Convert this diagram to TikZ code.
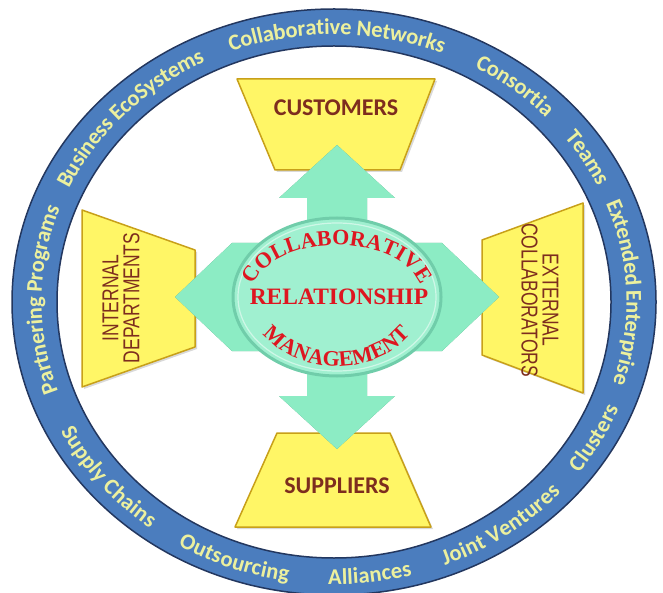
\documentclass[tikz,border=0pt]{standalone}
\usepackage{fontspec}
\usepackage{xcolor}
\usepackage{tikz}
\usetikzlibrary{decorations.text,shadows}

\newfontfamily\ringfont{Carlito}
\newfontfamily\boxfont{Carlito}
\newfontfamily\sidefont{Liberation Sans}[FakeStretch=0.76]
\newfontfamily\hubfont{Liberation Serif}

\definecolor{ringblue}{RGB}{75,125,190}
\definecolor{ringedge}{RGB}{35,55,95}
\definecolor{ringtext}{RGB}{236,240,158}
\definecolor{boxyellow}{RGB}{255,246,102}
\definecolor{boxedge}{RGB}{200,160,25}
\definecolor{boxtext}{RGB}{125,45,30}
\definecolor{mint}{RGB}{140,236,196}
\definecolor{mintdark}{RGB}{75,160,122}
\definecolor{hubfill}{RGB}{160,240,208}
\definecolor{hubrim}{RGB}{112,205,170}
\definecolor{hubred}{RGB}{222,22,32}

\begin{document}
\begin{tikzpicture}[x=1pt,y=1pt,
  ringtop/.style={decorate,decoration={text along path,text align=center,raise=-7.5pt,
    text color=ringtext,text={|\fontsize{22.5}{22.5}\ringfont\bfseries|#1}}},
  ringbot/.style={decorate,decoration={text along path,text align=center,raise=-7.5pt,
    text color=ringtext,text={|\fontsize{22.5}{22.5}\ringfont\bfseries|#1}}},
  hubarc/.style={decorate,decoration={text along path,text align=center,
    text color=hubred,text={|\fontsize{22}{22}\hubfont\bfseries|#1}}},
  box/.style={fill=boxyellow,draw=boxedge,line width=1.5pt,line join=round,
    drop shadow={shadow xshift=2pt,shadow yshift=-2pt,opacity=0.3}},
  boxlabel/.style={text=boxtext,font=\fontsize{24}{24}\boxfont\bfseries},
  sidelabel/.style={text=boxtext,font=\fontsize{23}{21}\sidefont,align=center}]
\useasboundingbox (0,0) rectangle (663,592);
\coordinate (ctr) at (334,290);
\coordinate (hub) at (337,295);

% outer ring
\fill[ringblue,even odd rule] (ctr) ellipse [x radius=322pt,y radius=293pt]
  (ctr) ellipse [x radius=277pt,y radius=256pt];
\draw[ringedge,line width=1.5pt] (ctr) ellipse [x radius=322pt,y radius=293pt];
\draw[ringedge,line width=1.5pt] (ctr) ellipse [x radius=277pt,y radius=256pt];

% ring words, upper half clockwise
\path[ringtop={Partnering Programs}] (ctr) ++(213.5:300pt and 275pt)
  arc[start angle=213.5,end angle=145.5,x radius=300pt,y radius=275pt];
\path[ringtop={Business EcoSystems}] (ctr) ++(170:300pt and 275pt)
  arc[start angle=170,end angle=102,x radius=300pt,y radius=275pt];
\path[ringtop={Collaborative Networks}] (ctr) ++(123.4:300pt and 275pt)
  arc[start angle=123.4,end angle=55.4,x radius=300pt,y radius=275pt];
\path[ringtop={Consortia}] (ctr) ++(85.8:300pt and 275pt)
  arc[start angle=85.8,end angle=17.8,x radius=300pt,y radius=275pt];
\path[ringtop={Teams}] (ctr) ++(65.2:300pt and 275pt)
  arc[start angle=65.2,end angle=-2.8,x radius=300pt,y radius=275pt];
\path[ringtop={Extended Enterprise}] (ctr) ++(36:300pt and 275pt)
  arc[start angle=36,end angle=-32,x radius=300pt,y radius=275pt];
% ring words, lower half
\path[ringbot={Supply Chains}] (ctr) ++(185.5:300pt and 275pt)
  arc[start angle=185.5,end angle=253.5,x radius=300pt,y radius=275pt];
\path[ringbot={Outsourcing}] (ctr) ++(216:300pt and 275pt)
  arc[start angle=216,end angle=284,x radius=300pt,y radius=275pt];
\path[ringbot={Alliances}] (ctr) ++(243:300pt and 275pt)
  arc[start angle=243,end angle=311,x radius=300pt,y radius=275pt];
\path[ringbot={Joint Ventures}] (ctr) ++(271:300pt and 275pt)
  arc[start angle=271,end angle=339,x radius=300pt,y radius=275pt];
\path[ringbot={Clusters}] (ctr) ++(297:300pt and 275pt)
  arc[start angle=297,end angle=365,x radius=300pt,y radius=275pt];

% the four partner boxes
\filldraw[box] (237,513) -- (435,513) -- (400,422) -- (275,422) -- cycle;
\node[boxlabel] (customers) at (336,484) {CUSTOMERS};
\filldraw[box] (277,159) -- (390,159) -- (431,65) -- (235,65) -- cycle;
\node[boxlabel] (suppliers) at (337,106) {SUPPLIERS};
\filldraw[box] (82,382) -- (195,342) -- (195,245) -- (82,205) -- cycle;
\node[sidelabel,rotate=90] (internal) at (121,294) {INTERNAL\\DEPARTMENTS};
\filldraw[box] (482,352) -- (583,389) -- (583,199) -- (482,237) -- cycle;
\node[sidelabel,rotate=-90] (external) at (540,292) {EXTERNAL\\COLLABORATORS};

% four-way arrow
\foreach \dx/\dy/\col in {2/-3/mintdark,0/0/mint}
  \fill[\col,shift={(\dx,\dy)}] (hub) ++(0,152) -- ++(58,-53) -- ++(-28,0) -- ++(0,-45)
    -- ++(75,0) -- ++(57,-54) -- ++(-57,-54) -- ++(-75,0) -- ++(0,-45) -- ++(28,0)
    -- ++(-58,-53) -- ++(-58,53) -- ++(28,0) -- ++(0,45) -- ++(-75,0) -- ++(-57,54)
    -- ++(57,54) -- ++(75,0) -- ++(0,45) -- ++(-28,0) -- cycle;

% centre
\filldraw[fill=hubfill,draw=hubrim,line width=3pt] (hub) ellipse [x radius=104pt,y radius=79pt];
\draw[white,opacity=0.5,line width=1.2pt] (hub) ellipse [x radius=99pt,y radius=74pt];
\path[hubarc={COLLABORATIVE}] (hub) ++(195:86pt and 52pt)
  arc[start angle=195,end angle=-15,x radius=86pt,y radius=52pt];
\path[hubarc={MANAGEMENT}] (hub) ++(195:88pt and 69pt)
  arc[start angle=195,end angle=345,x radius=88pt,y radius=69pt];
\node[text=hubred,font=\fontsize{23.5}{23.5}\hubfont\bfseries] (relation) at (339,295) {RELATIONSHIP};
\end{tikzpicture}
\end{document}
